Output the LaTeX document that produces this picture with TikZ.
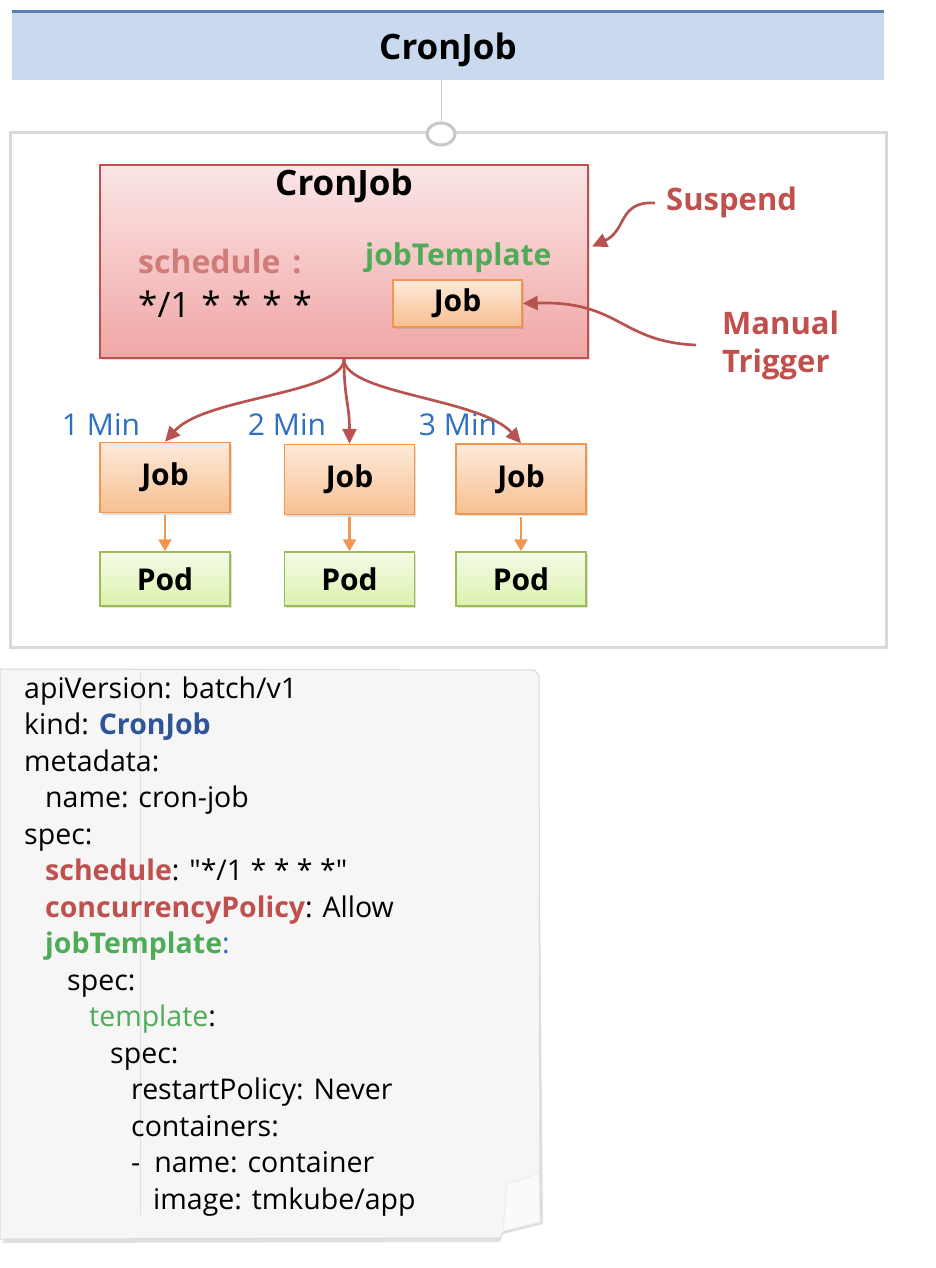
\documentclass[tikz,border=0pt]{standalone}
\usepackage{fontspec}
\setmainfont{Open Sans}[Ligatures=TeXOff]
\usetikzlibrary{arrows.meta, shapes.geometric, shadows}

\definecolor{cjred}{RGB}{192,80,77}
\definecolor{cjarrowred}{RGB}{184,84,80}
\definecolor{cjgreen}{RGB}{78,172,88}
\definecolor{kblue}{RGB}{47,85,151}
\definecolor{minblue}{RGB}{46,112,190}
\definecolor{bannerfill}{RGB}{201,217,238}
\definecolor{bannerline}{RGB}{91,125,185}
\definecolor{framegray}{RGB}{217,217,217}
\definecolor{jobline}{RGB}{240,150,80}
\definecolor{jobtop}{RGB}{253,234,218}
\definecolor{jobbot}{RGB}{247,192,145}
\definecolor{podline}{RGB}{155,187,89}
\definecolor{podtop}{RGB}{244,251,232}
\definecolor{podbot}{RGB}{219,242,172}
\definecolor{cjtop}{RGB}{251,230,230}
\definecolor{cjbot}{RGB}{241,166,166}
\definecolor{paper}{RGB}{246,246,246}

\begin{document}
\begin{tikzpicture}[x=1pt, y=-1pt, >=Stealth,
  every node/.style={inner sep=0pt},
  shade/.style={drop shadow={shadow xshift=1.5pt, shadow yshift=-2pt, opacity=0.25}},
  jobbox/.style={shade, draw=jobline, line width=1.5pt, top color=jobtop, bottom color=jobbot,
    minimum width=130pt, minimum height=70pt, font=\fontsize{30}{36}\selectfont\bfseries},
  podbox/.style={shade, draw=podline, line width=1.5pt, top color=podtop, bottom color=podbot,
    minimum width=130pt, minimum height=54pt, font=\fontsize{30}{36}\selectfont\bfseries},
  lbl/.style={font=\fontsize{31}{38}\selectfont\bfseries, text=cjred},
  minlbl/.style={anchor=base, font=\fontsize{30}{34}\selectfont, text=minblue},
  runarrow/.style={draw=cjarrowred, line width=2.7pt, -{Triangle[length=15pt,width=14pt]}},
  podarrow/.style={draw=jobline, line width=2.5pt, -{Triangle[length=12pt,width=13pt]}},
  codeline/.style={anchor=base west, font=\fontsize{28.5}{32}\selectfont}]
\useasboundingbox (0,0) rectangle (936,1268);

% top banner
\node[fill=bannerfill, minimum width=872pt, minimum height=68pt] (banner) at (448,46) {};
\draw[bannerline, line width=3pt] (banner.north west) -- (banner.north east);
\node[anchor=base, font=\fontsize{35}{40}\selectfont\bfseries] (title) at (448,60) {CronJob};

% frame
\draw[framegray, line width=3pt] (10,133) rectangle (886,647);
\node[ellipse, draw=gray!45, line width=3pt, fill=white, minimum width=28pt, minimum height=22pt] (port) at (441,134) {};
\draw[gray!40, line width=0.6pt] (port.north |- banner.south) -- (port.north);

% cronjob object
\node[shade, draw=cjred, line width=2pt, top color=cjtop, bottom color=cjbot,
  minimum width=488pt, minimum height=193pt] (cron) at (344,261.5) {};
\node[anchor=base, font=\fontsize{35}{40}\selectfont\bfseries] (crontitle) at (344,196) {CronJob};
\node[anchor=base west, font=\fontsize{32}{36}\selectfont\bfseries, text=cjred!75] (sched) at (138,273) {schedule\hspace{12pt}:};
\node[anchor=base west, font=\fontsize{35}{40}\selectfont] (cronexpr) at (138,317)
  {*/1 \hspace{2pt}* \hspace{2pt}* \hspace{2pt}* \hspace{2pt}*};
\node[anchor=base west, font=\fontsize{30}{36}\selectfont\bfseries, text=cjgreen] (tmpl) at (365,265) {jobTemplate};
\node[jobbox, minimum width=129pt, minimum height=47pt] (tjob) at (457.5,303.5) {Job};

% suspend / manual trigger
\node[lbl, anchor=base west] (susp) at (666,211) {Suspend};
\node[lbl, anchor=west, align=left] (trig) at (722,345) {Manual\\Trigger};
\draw[runarrow] ([xshift=-11pt]susp.west) .. controls +(-37,-2) and +(35,-16) .. ([yshift=15pt, xshift=3pt]cron.east);
\draw[runarrow] ([xshift=-26pt]trig.west) .. controls +(-76,-3) and +(97,-3) .. (tjob.east);

% jobs and pods
\node[jobbox] (job1) at (165,477.5) {Job};
\node[jobbox] (job2) at (349.5,479.5) {Job};
\node[jobbox] (job3) at (521,479) {Job};
\node[podbox] (pod1) at (165,579) {Pod};
\node[podbox] (pod2) at (349.5,579) {Pod};
\node[podbox] (pod3) at (521,579) {Pod};

\node[minlbl] (min1) at (101,435) {1 Min};
\node[minlbl] (min2) at (287,435) {2 Min};
\node[minlbl] (min3) at (458,435) {3 Min};

\draw[runarrow] (cron.south) .. controls +(0,35) and +(40,-45) .. (job1.north);
\draw[runarrow] (cron.south) .. controls +(0,40) and +(0,-40) .. (job2.north);
\draw[runarrow] (cron.south) .. controls +(0,35) and +(-40,-45) .. (job3.north);
\foreach \i in {1,2,3}
  \draw[podarrow] ([yshift=-2pt]job\i.south) -- (pod\i.north);

% yaml sheet
\fill[black!12] (3,673) -- (538,674) -- (543,1224) -- (503,1234) -- (500,1242) -- (3,1243) -- cycle;
\filldraw[fill=paper, draw=black!15, line width=1pt]
  (0,669) -- (535,670) -- (539,676) -- (540,1222) -- (504,1231) -- (500,1238) -- (0,1239) -- cycle;
\filldraw[fill=paper!50!white, draw=black!8, line width=0.8pt]
  (507,1184) .. controls (520,1180) and (532,1178) .. (539,1170) -- (540,1222) -- (503,1231) -- cycle;
\draw[black!12, line width=1pt] (140,672) -- (140,1215);
\foreach \ind/\txt [count=\k] in {
    0/{apiVersion: batch/v1},
    0/{kind: {\bfseries\color{kblue}CronJob}},
    0/{metadata:},
    21/{name: cron-job},
    0/{spec:},
    21/{{\bfseries\color{cjred}schedule}: "*/1 * * * *"},
    21/{{\bfseries\color{cjred}concurrencyPolicy}: Allow},
    21/{{\bfseries\color{cjgreen}jobTemplate}{\color{minblue}:}},
    43/{spec:},
    65/{{\color{cjgreen}template}:},
    86/{spec:},
    107/{restartPolicy: Never},
    107/{containers:},
    107/{-\hspace{14pt}name: container},
    129/{image: tmkube/app}}
  \node[codeline] (code\k) at (24+\ind, 698+36.5*\k-36.5) {\txt};
\end{tikzpicture}
\end{document}
